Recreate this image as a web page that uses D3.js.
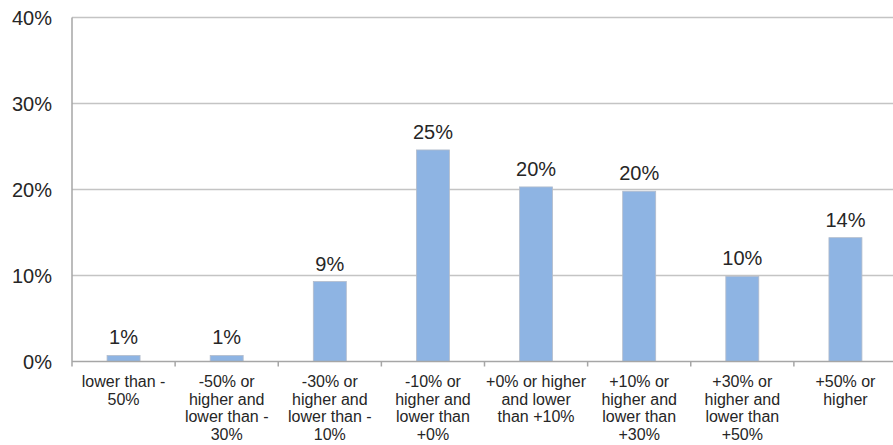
<!DOCTYPE html>
<html>
<head>
<meta charset="utf-8">
<script src="https://cdn.jsdelivr.net/npm/d3@7"></script>
<style>
  html, body { margin: 0; padding: 0; background: #fff; }
  svg { display: block; font-family: "Liberation Sans", Arial, sans-serif; }
</style>
</head>
<body>
<svg id="chart" width="893" height="445"></svg>
<script>
// Distribution of change rates by bracket (share of respondents, %)
const categories = [
  "lower than -\n50%",
  "-50% or\nhigher and\nlower than -\n30%",
  "-30% or\nhigher and\nlower than -\n10%",
  "-10% or\nhigher and\nlower than\n+0%",
  "+0% or higher\nand lower\nthan +10%",
  "+10% or\nhigher and\nlower than\n+30%",
  "+30% or\nhigher and\nlower than\n+50%",
  "+50% or\nhigher"
];
const shares = [0.7, 0.7, 9.3, 24.6, 20.3, 19.8, 9.9, 14.4];
const yTicks = [0, 10, 20, 30, 40];

const svg = d3.select("#chart");
const plotLeft = 72, plotRight = 897, plotTop = 17.5, plotBottom = 361.5;

const x = d3.scaleBand()
  .domain(categories)
  .range([plotLeft, plotRight])
  .paddingInner(0.68)
  .paddingOuter(0.34);

const y = d3.scaleLinear().domain([0, 40]).range([plotBottom, plotTop]);

const textColor = "#262626";
const pct = v => d3.format(".0f")(v) + "%";

// horizontal gridlines
svg.append("g")
  .selectAll("line")
  .data(yTicks.filter(d => d > 0))
  .join("line")
  .attr("x1", plotLeft).attr("x2", plotRight)
  .attr("y1", d => y(d)).attr("y2", d => y(d))
  .attr("stroke", "#c4c4c4")
  .attr("stroke-width", 1.5);

// y axis labels
svg.append("g")
  .selectAll("text")
  .data(yTicks)
  .join("text")
  .attr("x", 52)
  .attr("y", d => y(d) + 7)
  .attr("text-anchor", "end")
  .attr("font-size", 20)
  .attr("fill", textColor)
  .text(d => d + "%");

// bars
svg.append("g")
  .selectAll("rect")
  .data(shares)
  .join("rect")
  .attr("x", (d, i) => x(categories[i]))
  .attr("y", d => y(d))
  .attr("width", x.bandwidth())
  .attr("height", d => y(0) - y(d))
  .attr("fill", "#8eb4e3")
  .attr("stroke", "#b3bccb")
  .attr("stroke-width", 0.8);

// value labels
svg.append("g")
  .selectAll("text")
  .data(shares)
  .join("text")
  .attr("x", (d, i) => x(categories[i]) + x.bandwidth() / 2)
  .attr("y", d => y(d) - 11)
  .attr("text-anchor", "middle")
  .attr("font-size", 20)
  .attr("fill", textColor)
  .text(pct);

// axis lines
svg.append("line")
  .attr("x1", plotLeft).attr("x2", plotLeft)
  .attr("y1", plotTop).attr("y2", plotBottom + 5)
  .attr("stroke", "#a6a6a6").attr("stroke-width", 1.5);
svg.append("line")
  .attr("x1", plotLeft).attr("x2", plotRight)
  .attr("y1", plotBottom).attr("y2", plotBottom)
  .attr("stroke", "#a6a6a6").attr("stroke-width", 1.5);

// x tick marks at category boundaries
const step = x.step();
svg.append("g")
  .selectAll("line")
  .data(categories.slice(1))
  .join("line")
  .attr("x1", d => x(d) + x.bandwidth() / 2 - step / 2)
  .attr("x2", d => x(d) + x.bandwidth() / 2 - step / 2)
  .attr("y1", plotBottom).attr("y2", plotBottom + 5)
  .attr("stroke", "#a6a6a6").attr("stroke-width", 1.5);

// category labels
const cat = svg.append("g")
  .selectAll("text")
  .data(categories)
  .join("text")
  .attr("x", d => x(d) + x.bandwidth() / 2)
  .attr("y", 387)
  .attr("text-anchor", "middle")
  .attr("font-size", 16)
  .attr("fill", textColor);
cat.each(function(d) {
  const t = d3.select(this);
  const cx = +t.attr("x");
  d.split("\n").forEach((line, k) => {
    t.append("tspan")
      .attr("x", cx)
      .attr("dy", k === 0 ? 0 : 17.6)
      .text(line);
  });
});
</script>
</body>
</html>
